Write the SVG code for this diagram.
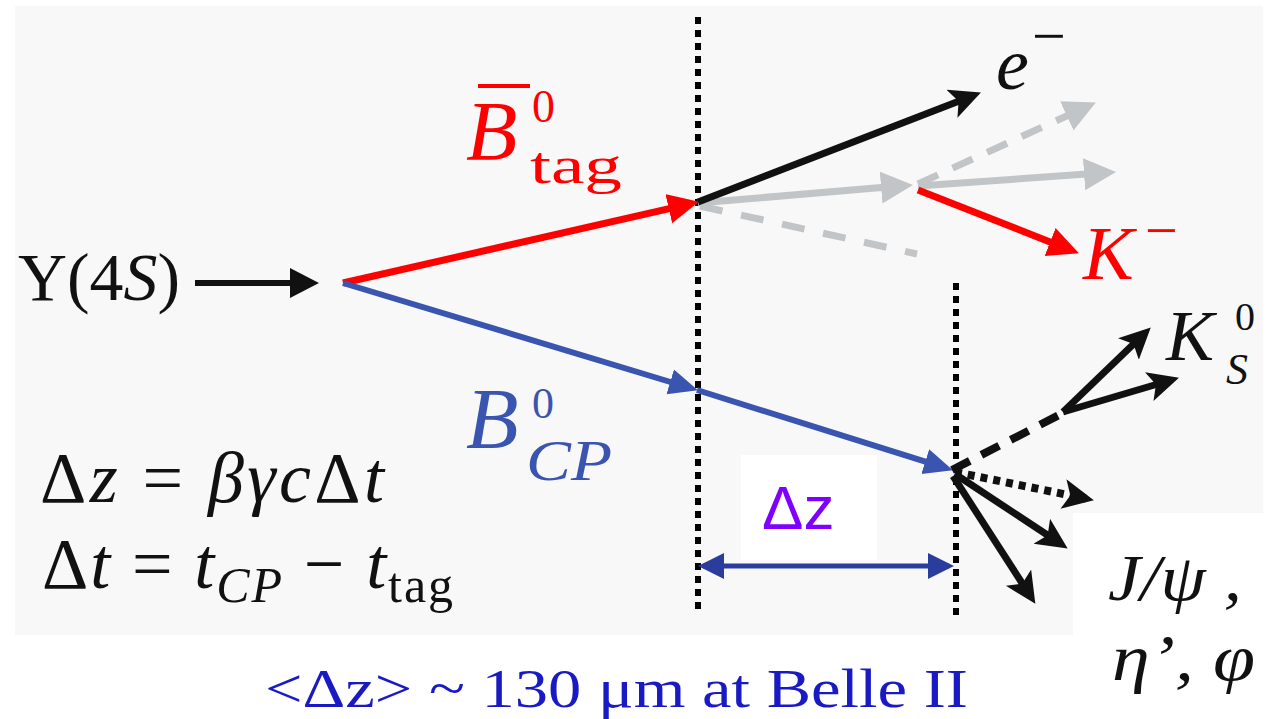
<svg xmlns="http://www.w3.org/2000/svg" width="1276" height="719" viewBox="0 0 1276 719">
<style>
.serif{font-family:"Liberation Serif","DejaVu Serif",serif}
.it{font-style:italic}
.sans{font-family:"Liberation Sans",Arial,sans-serif}
.red{fill:#ff0000}
.blue{fill:#3a55b0}
.blk{fill:#111}
</style>
<defs>
<marker id="ahK" markerUnits="userSpaceOnUse" markerWidth="32" markerHeight="32" refX="21" refY="15" orient="auto"><path d="M0,0 L29,15 L0,30 z" fill="#111"/></marker>
<marker id="ahKb" markerUnits="userSpaceOnUse" markerWidth="34" markerHeight="34" refX="23" refY="15" orient="auto"><path d="M0,0 L31,15 L0,30 L7,15 z" fill="#111"/></marker>
<marker id="ahR" markerUnits="userSpaceOnUse" markerWidth="34" markerHeight="34" refX="23" refY="15" orient="auto"><path d="M0,0 L31,15 L0,30 z" fill="#ff0000"/></marker>
<marker id="ahB" markerUnits="userSpaceOnUse" markerWidth="32" markerHeight="32" refX="21" refY="13" orient="auto"><path d="M0,0 L29,13 L0,26 z" fill="#3a55b0"/></marker>
<marker id="ahD" markerUnits="userSpaceOnUse" markerWidth="32" markerHeight="32" refX="21" refY="13" orient="auto"><path d="M0,0 L26,13 L0,26 z" fill="#2a3d9c"/></marker>
<marker id="ahDs" markerUnits="userSpaceOnUse" markerWidth="32" markerHeight="32" refX="5" refY="13" orient="auto"><path d="M26,0 L0,13 L26,26 z" fill="#2a3d9c"/></marker>
<marker id="ahG" markerUnits="userSpaceOnUse" markerWidth="36" markerHeight="36" refX="24" refY="16" orient="auto"><path d="M0,0 L32,16 L0,32 z" fill="#c2c5c7"/></marker>
</defs>

<rect x="0" y="0" width="1276" height="719" fill="#ffffff"/>
<rect x="15" y="6" width="1248" height="629" fill="#f8f8f8"/>
<rect x="1073" y="513" width="203" height="206" fill="#ffffff"/>
<rect x="741" y="455" width="136" height="105" fill="#ffffff"/>

<g id="connectors" fill="none">
  <line x1="698" y1="17" x2="698" y2="612" stroke="#000" stroke-width="6" stroke-dasharray="7 6"/>
  <line x1="956" y1="283" x2="956" y2="617" stroke="#000" stroke-width="6" stroke-dasharray="7 6"/>
  <line x1="195" y1="283" x2="311" y2="283" stroke="#111" stroke-width="6" marker-end="url(#ahK)"/>
  <line x1="700" y1="206" x2="917" y2="254" stroke="#c2c5c7" stroke-width="7" stroke-dasharray="23 19"/>
  <line x1="698" y1="203" x2="905" y2="185.6" stroke="#c2c5c7" stroke-width="7" marker-end="url(#ahG)"/>
  <line x1="918" y1="186" x2="1108" y2="172.5" stroke="#c2c5c7" stroke-width="7" marker-end="url(#ahG)"/>
  <line x1="918" y1="184" x2="1088.6" y2="105.9" stroke="#c2c5c7" stroke-width="7" stroke-dasharray="22 16" marker-end="url(#ahG)"/>
  <line x1="343" y1="283" x2="691.2" y2="203.6" stroke="#ff0000" stroke-width="7" marker-end="url(#ahR)"/>
  <line x1="698" y1="202" x2="973.5" y2="95.5" stroke="#111" stroke-width="7" marker-end="url(#ahKb)"/>
  <line x1="918" y1="190" x2="1071.5" y2="250.4" stroke="#ff0000" stroke-width="7" marker-end="url(#ahR)"/>
  <line x1="343" y1="283" x2="690.3" y2="388" stroke="#3a55b0" stroke-width="6" marker-end="url(#ahB)"/>
  <line x1="697" y1="390" x2="945.3" y2="467.9" stroke="#3a55b0" stroke-width="6" marker-end="url(#ahB)"/>
  <line x1="703" y1="566" x2="949" y2="566" stroke="#2a3d9c" stroke-width="5" marker-start="url(#ahDs)" marker-end="url(#ahD)"/>
  <line x1="952" y1="470" x2="1065" y2="412" stroke="#111" stroke-width="8" stroke-dasharray="20 13"/>
  <line x1="1063" y1="412" x2="1145" y2="333" stroke="#111" stroke-width="7" marker-end="url(#ahKb)"/>
  <line x1="1063" y1="412" x2="1171.3" y2="380" stroke="#111" stroke-width="7" marker-end="url(#ahKb)"/>
  <line x1="955" y1="472" x2="1086" y2="498.6" stroke="#111" stroke-width="8" stroke-dasharray="7 6" marker-end="url(#ahKb)"/>
  <line x1="955" y1="474" x2="1061" y2="544" stroke="#111" stroke-width="7" marker-end="url(#ahKb)"/>
  <line x1="953" y1="476" x2="1031" y2="597" stroke="#111" stroke-width="7" marker-end="url(#ahKb)"/>
</g>

<g id="upsilon">
  <text class="serif blk" x="18" y="300" font-size="68" textLength="162" lengthAdjust="spacingAndGlyphs">Υ(4<tspan class="it">S</tspan>)</text>
</g>

<g id="btag">
  <line x1="478" y1="86" x2="530" y2="86" stroke="#ff0000" stroke-width="4"/>
  <text class="serif it red" x="466" y="160" font-size="84">B</text>
  <text class="serif red" x="532" y="122" font-size="46">0</text>
  <text class="serif red" x="530" y="183" font-size="52" textLength="92" lengthAdjust="spacingAndGlyphs">tag</text>
</g>

<g id="electron">
  <text class="serif it blk" x="996" y="89" font-size="74">e</text>
  <text class="serif blk" x="1032" y="56" font-size="60">−</text>
</g>

<g id="kaon">
  <text class="serif it red" x="1083" y="279" font-size="76">K</text>
  <text class="serif red" x="1145" y="250" font-size="58">−</text>
</g>

<g id="bcp">
  <text class="serif it blue" x="466" y="448" font-size="86">B</text>
  <text class="serif blue" x="532" y="418" font-size="44">0</text>
  <text class="serif it blue" x="526" y="480" font-size="56" textLength="86" lengthAdjust="spacingAndGlyphs">CP</text>
</g>

<g id="ks">
  <text class="serif it blk" x="1166" y="360" font-size="72">K</text>
  <text class="serif blk" x="1235" y="330" font-size="40">0</text>
  <text class="serif it blk" x="1226" y="384" font-size="44">S</text>
</g>

<g id="equations">
  <text class="serif blk" x="40" y="502" font-size="72" textLength="344" lengthAdjust="spacing">Δ<tspan class="it">z</tspan> = <tspan class="it">βγc</tspan>Δ<tspan class="it">t</tspan></text>
  <text class="serif blk" x="42" y="588" font-size="72" textLength="411" lengthAdjust="spacing">Δ<tspan class="it">t</tspan> = <tspan class="it">t</tspan><tspan class="it" font-size="50" dy="14">CP</tspan><tspan dy="-14"> − </tspan><tspan class="it">t</tspan><tspan font-size="50" dy="14">tag</tspan></text>
</g>

<g id="dz-label">
  <text class="sans" x="762" y="529" font-size="62" fill="#7f00ff">Δz</text>
</g>

<g id="products">
  <text class="serif it blk" x="1108" y="600" font-size="66" textLength="134" lengthAdjust="spacingAndGlyphs">J/ψ ,</text>
  <text class="serif it blk" x="1112" y="680" font-size="66" textLength="143" lengthAdjust="spacingAndGlyphs">η’, φ</text>
</g>

<g id="caption">
  <text class="serif" x="265" y="707" font-size="54" fill="#1a1ac4" textLength="703" lengthAdjust="spacingAndGlyphs">&lt;Δz&gt; ~ 130 μm at Belle II</text>
</g>
</svg>
